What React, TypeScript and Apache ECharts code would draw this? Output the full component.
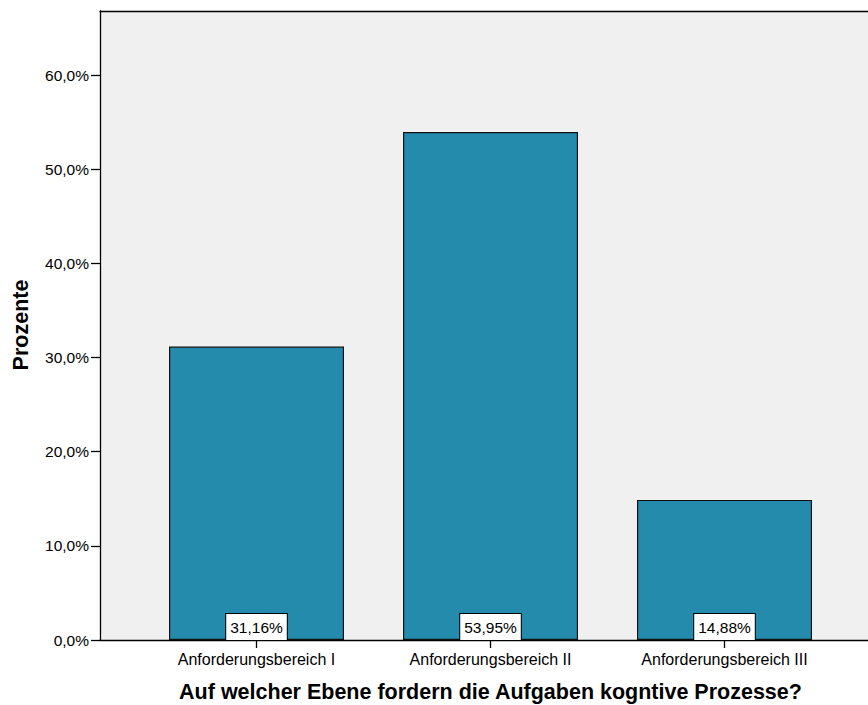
import React, { useEffect, useRef } from "react";
import * as echarts from "echarts";

const categories = ["Anforderungsbereich I", "Anforderungsbereich II", "Anforderungsbereich III"];
const percentages = [31.16, 53.95, 14.88];
const yTicks = [0, 10, 20, 30, 40, 50, 60];
const xTitle = "Auf welcher Ebene fordern die Aufgaben kogntive Prozesse?";
const yTitle = "Prozente";

const FONT = "'Liberation Sans', Arial, sans-serif";
const fmt = (v: number, d: number) => v.toFixed(d).replace(".", ",") + "%";

export default function App() {
  const ref = useRef<HTMLDivElement>(null);
  useEffect(() => {
    if (!ref.current) return;
    const chart = echarts.init(ref.current, null, { renderer: "svg" });
    const positions = categories.map((_, i) => i + 1);
    const xMin = 0.3312;
    const xMax = 3.6132;
    chart.setOption({
      animation: false,
      textStyle: { fontFamily: FONT },
      grid: {
        left: 100,
        top: 11,
        right: 0,
        bottom: 65,
        show: true,
        backgroundColor: "#f0f0f0",
        borderWidth: 0,
      },
      xAxis: [
        {
          type: "value",
          min: xMin,
          max: xMax,
          splitLine: { show: false },
          axisLine: { show: true, lineStyle: { color: "#000", width: 1.3 } },
          axisTick: {
            show: true,
            customValues: positions,
            length: 8,
            lineStyle: { color: "#000", width: 1.3 },
          },
          axisLabel: {
            customValues: positions,
            formatter: (v: number) => categories[Math.round(v) - 1] ?? "",
            color: "#000",
            fontSize: 16,
            fontFamily: FONT,
            margin: 11,
          },
        },
        {
          type: "value",
          position: "top",
          min: xMin,
          max: xMax,
          splitLine: { show: false },
          axisLine: { show: true, lineStyle: { color: "#000", width: 1.3 } },
          axisTick: { show: false },
          axisLabel: { show: false },
        },
      ],
      yAxis: {
        type: "value",
        min: 0,
        max: 66.8,
        splitLine: { show: false },
        axisLine: { show: true, lineStyle: { color: "#000", width: 1.3 } },
        axisTick: {
          show: true,
          customValues: yTicks,
          length: 9,
          lineStyle: { color: "#000", width: 1.3 },
        },
        axisLabel: {
          customValues: yTicks,
          formatter: (v: number) => fmt(v, 1),
          color: "#000",
          fontSize: 15.5,
          fontFamily: FONT,
          margin: 11,
        },
      },
      series: [
        {
          type: "bar",
          xAxisIndex: 0,
          barWidth: 175,
          data: positions.map((p, i) => [p, percentages[i]]),
          itemStyle: { color: "#258bac", borderColor: "#111", borderWidth: 1.2 },
          label: {
            show: true,
            position: "insideBottom",
            distance: 0,
            formatter: (p: any) => fmt(p.value[1], 2),
            color: "#000",
            fontSize: 15.5,
            fontFamily: FONT,
            lineHeight: 18,
            backgroundColor: "#fff",
            borderColor: "#000",
            borderWidth: 1,
            padding: [4, 4, 4, 4],
          },
        },
      ],
      graphic: [
        {
          type: "text",
          x: 490.5,
          y: 692,
          style: {
            text: xTitle,
            fill: "#000",
            font: `bold 21.5px ${FONT}`,
            textAlign: "center",
            textVerticalAlign: "middle",
          },
        },
        {
          type: "text",
          x: 21,
          y: 325,
          rotation: Math.PI / 2,
          style: {
            text: yTitle,
            fill: "#000",
            font: `bold 21.5px ${FONT}`,
            textAlign: "center",
            textVerticalAlign: "middle",
          },
        },
      ],
    });
    return () => chart.dispose();
  }, []);
  return (
    <div
      ref={ref}
      style={{ position: "absolute", left: 0, top: 0, width: 868, height: 705 }}
    />
  );
}
